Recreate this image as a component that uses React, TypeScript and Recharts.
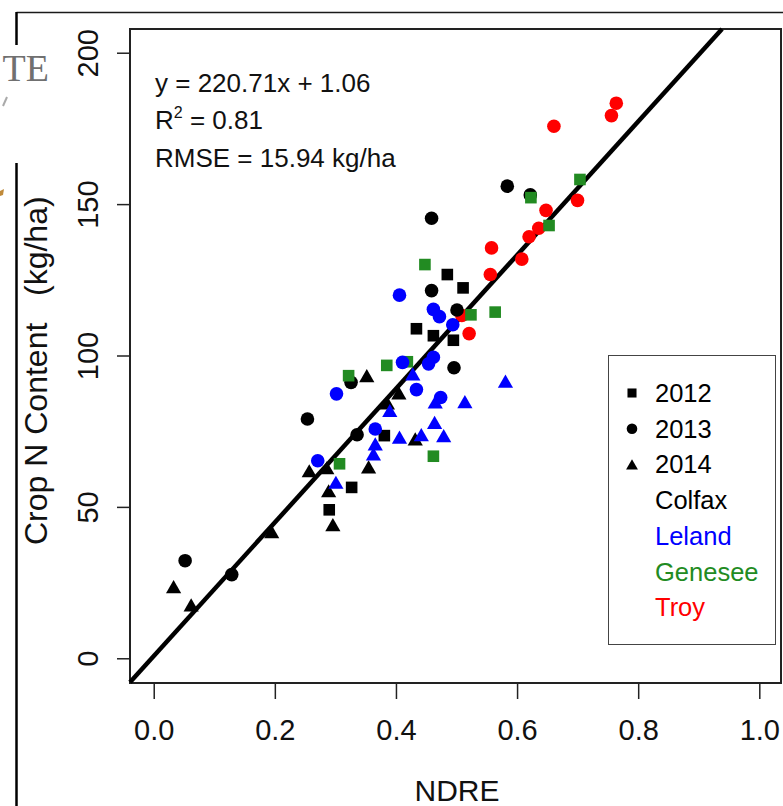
import React from 'react';
import { ScatterChart, Scatter, XAxis, YAxis, ReferenceLine, ReferenceArea, Legend } from 'recharts';

// ---- data (NDRE, crop N content kg/ha) ----
const colfax2012 = [[0.289, 49.2], [0.326, 56.6], [0.380, 73.7], [0.433, 109.0], [0.461, 106.7], [0.494, 105.2], [0.484, 126.9], [0.510, 122.5]];
const colfax2013 = [[0.051, 32.4], [0.128, 27.8], [0.253, 79.2], [0.325, 91.3], [0.335, 74.0], [0.458, 145.5], [0.458, 121.6], [0.500, 115.2], [0.495, 96.1], [0.583, 156.1], [0.621, 153.2]];
const colfax2014 = [[0.032, 23.8], [0.061, 17.8], [0.194, 42.0], [0.256, 62.1], [0.285, 63.1], [0.288, 55.5], [0.295, 44.3], [0.354, 63.4], [0.351, 93.5], [0.385, 84.5], [0.404, 87.8], [0.431, 72.6]];
const leland2013 = [[0.270, 65.4], [0.301, 87.5], [0.365, 75.9], [0.410, 97.9], [0.405, 120.1], [0.433, 88.9], [0.461, 115.4], [0.471, 113.0], [0.493, 110.3], [0.453, 97.4], [0.461, 99.6], [0.473, 86.3]];
const leland2014 = [[0.300, 58.3], [0.362, 67.7], [0.365, 71.0], [0.389, 82.0], [0.405, 73.2], [0.427, 94.1], [0.441, 74.0], [0.463, 78.1], [0.464, 84.8], [0.478, 73.7], [0.513, 84.9], [0.580, 91.7]];
const genesee2012 = [[0.306, 64.4], [0.321, 93.5], [0.384, 96.9], [0.418, 98.1], [0.447, 130.2], [0.461, 66.9], [0.523, 113.6], [0.563, 114.5], [0.622, 152.3], [0.652, 143.1], [0.703, 158.3]];
const troy2013 = [[0.508, 113.4], [0.520, 107.4], [0.555, 126.9], [0.557, 135.7], [0.607, 132.0], [0.619, 139.4], [0.635, 142.2], [0.647, 148.1], [0.699, 151.4], [0.660, 175.9], [0.755, 179.4], [0.763, 183.5]];

const xTicks = [0, 0.2, 0.4, 0.6, 0.8, 1.0];
const yTicks = [0, 50, 100, 150, 200];
const legendYears = ['2012', '2013', '2014'];
const yearShapes = ['square', 'circle', 'triangle'];
const legendSites = ['Colfax', 'Leland', 'Genesee', 'Troy'];
const siteColors = ['#000000', '#0000ff', '#228b22', '#ff0000'];

const SLOPE = 220.71;
const INTERCEPT = 1.06;
const X_DOMAIN = [-0.04, 1.035];
const Y_DOMAIN = [-8, 208];

const FONT = '"Liberation Sans", Arimo, Arial, Helvetica, sans-serif';

const toPts = (a: number[][]) => a.map(([x, y]) => ({ x, y }));

function Mark({ cx, cy, kind, color, s = 1 }: any) {
  if (cx == null || cy == null) return null;
  if (kind === 'square') {
    const h = 5.8 * s;
    return <rect x={cx - h} y={cy - h} width={2 * h} height={2 * h} fill={color} />;
  }
  if (kind === 'circle') {
    return <circle cx={cx} cy={cy} r={6.8 * s} fill={color} />;
  }
  const w = 7.6 * s;
  const h = 6.6 * s;
  return <polygon points={`${cx},${cy - h} ${cx + w},${cy + h} ${cx - w},${cy + h}`} fill={color} />;
}

const shapeOf = (kind: string, color: string) => (p: any) => <Mark cx={p.cx} cy={p.cy} kind={kind} color={color} />;

const XTick = ({ x, payload }: any) => (
  <text x={x} y={740} textAnchor="middle" fontFamily={FONT} fontSize={29} fill="#111">
    {Number(payload.value).toFixed(1)}
  </text>
);

const YTick = ({ y, payload }: any) => (
  <text x={98} y={y} transform={`rotate(-90, 98, ${y})`} textAnchor="middle" fontFamily={FONT} fontSize={29} fill="#111">
    {payload.value}
  </text>
);

const renderLegend = () => {
  const rows: any[] = [];
  legendYears.forEach((yr, i) => rows.push({ label: yr, kind: yearShapes[i], color: '#000' }));
  legendSites.forEach((s, i) => rows.push({ label: s, kind: null, color: siteColors[i] }));
  return (
    <div style={{ width: 168, height: 290, boxSizing: 'border-box', border: '1.5px solid #444', background: '#fff' }}>
      <svg width={165} height={287} style={{ display: 'block' }}>
        {rows.map((r, i) => {
          const cy = 37 + i * 35.7;
          return (
            <g key={r.label}>
              {r.kind && <Mark cx={23} cy={cy} kind={r.kind} color="#000" s={0.78} />}
              <text x={46} y={cy + 9} fontFamily={FONT} fontSize={25.5} fill={r.color}>{r.label}</text>
            </g>
          );
        })}
      </svg>
    </div>
  );
};

export default function App() {
  const lineStart = { x: X_DOMAIN[0], y: SLOPE * X_DOMAIN[0] + INTERCEPT };
  const lineEnd = { x: (Y_DOMAIN[1] - INTERCEPT) / SLOPE, y: Y_DOMAIN[1] };
  return (
    <div style={{ position: 'absolute', left: 0, top: 0, width: 783, height: 806, background: '#fff' }}>
      <ScatterChart width={783} height={806} margin={{ top: 29, right: 2, bottom: 0, left: 0 }}>
        <XAxis
          type="number"
          dataKey="x"
          domain={X_DOMAIN}
          ticks={xTicks}
          allowDataOverflow
          height={123}
          tickSize={16}
          axisLine={false}
          tickLine={{ stroke: '#222', strokeWidth: 1.5 }}
          tick={<XTick />}
          interval={0}
        />
        <YAxis
          type="number"
          dataKey="y"
          domain={Y_DOMAIN}
          ticks={yTicks}
          allowDataOverflow
          width={130}
          tickSize={13}
          axisLine={false}
          tickLine={{ stroke: '#222', strokeWidth: 1.5 }}
          tick={<YTick />}
          interval={0}
        />
        <ReferenceArea x1={X_DOMAIN[0]} x2={X_DOMAIN[1]} y1={Y_DOMAIN[0]} y2={Y_DOMAIN[1]} fill="none" fillOpacity={0} stroke="#222" strokeWidth={2} ifOverflow="extendDomain" />
        <Scatter name="Troy 2013" data={toPts(troy2013)} shape={shapeOf('circle', siteColors[3])} isAnimationActive={false} />
        <Scatter name="Colfax 2012" data={toPts(colfax2012)} shape={shapeOf('square', siteColors[0])} isAnimationActive={false} />
        <Scatter name="Colfax 2013" data={toPts(colfax2013)} shape={shapeOf('circle', siteColors[0])} isAnimationActive={false} />
        <Scatter name="Colfax 2014" data={toPts(colfax2014)} shape={shapeOf('triangle', siteColors[0])} isAnimationActive={false} />
        <Scatter name="Genesee 2012" data={toPts(genesee2012)} shape={shapeOf('square', siteColors[2])} isAnimationActive={false} />
        <Scatter name="Leland 2013" data={toPts(leland2013)} shape={shapeOf('circle', siteColors[1])} isAnimationActive={false} />
        <Scatter name="Leland 2014" data={toPts(leland2014)} shape={shapeOf('triangle', siteColors[1])} isAnimationActive={false} />
        <ReferenceLine segment={[lineStart, lineEnd]} stroke="#000" strokeWidth={4.5} />
        <Legend
          layout="vertical"
          align="center"
          verticalAlign="middle"
          content={renderLegend}
          wrapperStyle={{ left: 608, top: 355, width: 168, height: 290 }}
        />
      </ScatterChart>
      <svg width={783} height={806} style={{ position: 'absolute', left: 0, top: 0, pointerEvents: 'none' }}>
        {/* outer frame remnants */}
        <line x1={16.5} y1={12.5} x2={783} y2={12.5} stroke="#1a1a1a" strokeWidth={1.6} />
        <line x1={16.5} y1={12} x2={16.5} y2={45} stroke="#000" strokeWidth={2.5} />
        <line x1={16.5} y1={163} x2={16.5} y2={806} stroke="#000" strokeWidth={2.5} />
        <text x={49} y={81} textAnchor="end" fontFamily='"Liberation Serif", "DejaVu Serif", serif' fontSize={38} fill="#707070">TE</text>
        <line x1={7} y1={97} x2={3} y2={106} stroke="#aaa" strokeWidth={2} />
        <path d="M0,191 L4,189 L3,195 L0,196 Z" fill="#c08a3a" />
        {/* regression annotation */}
        <text x={155} y={92} fontFamily={FONT} fontSize={26} fill="#111">y = 220.71x + 1.06</text>
        <text x={155} y={129} fontFamily={FONT} fontSize={26} fill="#111">
          R<tspan fontSize={16} dy={-11}>2</tspan><tspan dy={11}> = 0.81</tspan>
        </text>
        <text x={155} y={167} fontFamily={FONT} fontSize={26} fill="#111">RMSE = 15.94 kg/ha</text>
        {/* axis titles */}
        <text x={47} y={545} transform="rotate(-90, 47, 545)" fontFamily={FONT} fontSize={32} fill="#111" style={{ whiteSpace: 'pre' }}>{'Crop N Content   (kg/ha)'}</text>
        <text x={457} y={801} textAnchor="middle" fontFamily={FONT} fontSize={30} fill="#111">NDRE</text>
      </svg>
    </div>
  );
}
